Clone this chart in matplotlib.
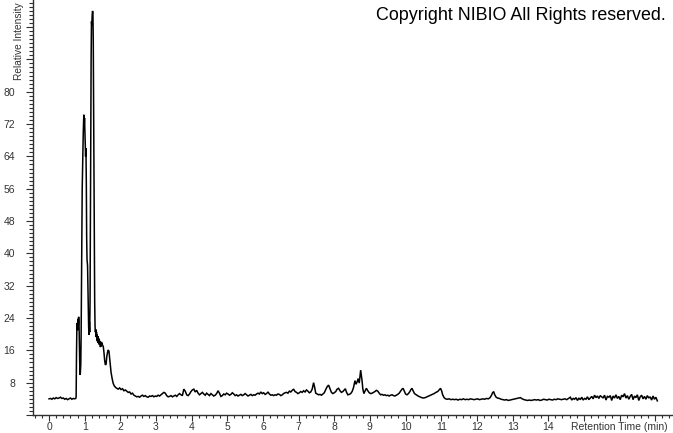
import matplotlib
matplotlib.use("Agg")
import matplotlib.pyplot as plt
from matplotlib.ticker import MultipleLocator, FixedLocator

# ---------------- data ----------------
time_a = [0.00, 0.04, 0.08, 0.12, 0.16, 0.20, 0.24, 0.28, 0.32, 0.36, 0.40, 0.44, 0.48,
          0.52, 0.56, 0.60, 0.64, 0.68, 0.72, 0.75]
int_a = [4.0, 4.1, 3.9, 4.2, 4.0, 4.3, 4.1, 4.2, 4.4, 4.1, 4.2, 3.9, 4.1,
         3.8, 4.0, 4.2, 3.9, 4.1, 4.0, 4.1]

time_b = [0.76, 0.77, 0.78, 0.79, 0.80, 0.81, 0.82, 0.83, 0.84, 0.85, 0.86, 0.875, 0.89,
          0.90, 0.915, 0.93, 0.945, 0.96, 0.975, 0.985, 0.995, 1.005, 1.015, 1.025, 1.035,
          1.045, 1.055, 1.065, 1.08, 1.095, 1.11, 1.12, 1.13, 1.14, 1.15, 1.16, 1.17, 1.18,
          1.19, 1.20, 1.21, 1.22, 1.23, 1.24, 1.25, 1.26, 1.27, 1.28, 1.29, 1.30, 1.31, 1.32,
          1.33, 1.34, 1.35, 1.36, 1.37, 1.38, 1.39, 1.40, 1.41, 1.42, 1.43, 1.44, 1.45, 1.46,
          1.47, 1.48, 1.49, 1.50, 1.52, 1.54, 1.56, 1.58, 1.60, 1.62, 1.64, 1.66, 1.68, 1.70,
          1.72, 1.74, 1.77, 1.80, 1.83, 1.87]
int_b = [4.5, 15.0, 21.5, 22.8, 21.0, 23.8, 22.2, 24.3, 23.0, 18.0, 13.0, 9.9, 12.5,
         20.0, 38.0, 56.0, 63.0, 70.0, 74.3, 71.5, 73.5, 70.0, 66.0, 64.0, 66.0,
         58.0, 44.0, 38.5, 37.0, 30.0, 22.0, 19.8, 23.0, 20.5, 28.0, 48.0, 70.0, 88.0,
         97.4, 96.5, 99.0, 100.0, 99.5, 93.0, 76.0, 56.0, 40.0, 28.0, 22.0, 20.5, 21.2, 19.3,
         20.6, 18.5, 20.0, 18.2, 19.5, 17.8, 19.0, 17.5, 18.6, 17.4, 18.2, 16.8, 17.9, 17.0,
         18.1, 17.3, 17.8, 17.2, 17.0, 15.5, 13.5, 12.4, 12.6, 14.5, 15.5, 16.1, 15.8, 14.0,
         12.0, 10.5, 9.0, 7.8, 7.2, 6.8]

time_c = [1.90, 1.94, 1.98, 2.02, 2.06, 2.10, 2.14, 2.18, 2.22, 2.26, 2.30, 2.34, 2.38,
          2.42, 2.46, 2.50, 2.54, 2.58, 2.62, 2.66, 2.70, 2.74, 2.78, 2.82, 2.86, 2.90,
          2.94, 2.98]
int_c = [6.6, 6.4, 6.7, 6.3, 6.5, 6.0, 6.2, 5.9, 5.6, 5.7, 5.2, 5.4, 4.9,
         4.7, 4.5, 4.6, 4.4, 4.7, 4.9, 4.6, 4.8, 4.5, 4.4, 4.7, 4.6, 4.8,
         4.5, 4.7]

time_d = [3.02, 3.06, 3.10, 3.14, 3.18, 3.22, 3.26, 3.30, 3.34, 3.38, 3.42, 3.46, 3.50,
          3.54, 3.58, 3.62, 3.66, 3.70, 3.74, 3.78, 3.82, 3.86, 3.90, 3.94, 3.98, 4.02,
          4.06, 4.10, 4.14, 4.18, 4.22, 4.26, 4.30, 4.34, 4.38, 4.42, 4.46, 4.50, 4.54,
          4.58, 4.62, 4.66, 4.70, 4.74, 4.78, 4.82, 4.86, 4.90, 4.94, 4.98, 5.02, 5.06,
          5.10, 5.14, 5.18, 5.22, 5.26, 5.30, 5.34, 5.38, 5.42, 5.46, 5.50, 5.54, 5.58,
          5.62, 5.66, 5.70, 5.74, 5.78, 5.82, 5.86, 5.90, 5.94, 5.98, 6.02, 6.06, 6.10,
          6.14, 6.18, 6.22, 6.26, 6.30, 6.34, 6.38, 6.42, 6.46, 6.50, 6.54, 6.58, 6.62,
          6.66, 6.70, 6.74, 6.78, 6.82, 6.86, 6.90, 6.94, 6.98, 7.02, 7.06, 7.10, 7.14,
          7.18, 7.22, 7.26, 7.30, 7.34, 7.38, 7.42, 7.45, 7.48]
int_d = [4.6, 4.9, 4.7, 5.0, 5.3, 5.6, 5.4, 4.8, 4.5, 4.6, 4.8, 4.5, 4.7,
         4.9, 4.6, 5.0, 5.3, 5.0, 4.8, 6.4, 5.9, 5.0, 4.8, 5.2, 5.8, 6.2,
         6.4, 5.7, 6.1, 5.4, 5.0, 5.3, 5.6, 5.2, 4.9, 5.4, 5.1, 4.8, 5.3,
         5.0, 4.7, 4.9, 5.3, 6.0, 5.4, 4.6, 4.8, 5.2, 5.0, 5.4, 5.2, 4.9,
         5.1, 5.5, 5.2, 4.8, 5.0, 4.7, 4.9, 5.1, 4.8, 5.0, 5.3, 5.0, 4.7,
         4.9, 5.1, 4.8, 5.0, 4.9, 5.2, 5.4, 5.2, 5.7, 5.3, 5.5, 5.1, 5.3,
         5.7, 5.2, 4.9, 5.0, 4.8, 5.0, 4.9, 5.2, 5.1, 4.8, 5.0, 5.3, 5.5,
         5.6, 5.4, 5.9, 5.7, 6.1, 6.4, 5.8, 5.6, 5.3, 5.5, 5.8, 5.6, 6.0,
         5.7, 6.2, 5.9, 5.5, 5.7, 6.4, 8.0, 6.8, 5.4]

time_e = [7.52, 7.56, 7.60, 7.64, 7.68, 7.72, 7.76, 7.80, 7.84, 7.88, 7.92, 7.96, 8.00,
          8.04, 8.08, 8.12, 8.16, 8.20, 8.24, 8.28, 8.31, 8.34, 8.38, 8.42, 8.46, 8.50,
          8.54, 8.58, 8.61, 8.64, 8.67, 8.70, 8.72, 8.74, 8.76, 8.78, 8.80, 8.83, 8.86,
          8.90, 8.94, 8.98, 9.02, 9.06, 9.10, 9.14, 9.18, 9.22, 9.26, 9.30, 9.34, 9.38,
          9.42, 9.46, 9.50, 9.54, 9.58, 9.62, 9.66, 9.70, 9.74, 9.78, 9.82, 9.86, 9.90,
          9.93, 9.96, 10.00, 10.04, 10.08, 10.12, 10.15, 10.18, 10.21, 10.25, 10.30, 10.35,
          10.40, 10.45, 10.50, 10.55, 10.60, 10.65, 10.70, 10.75, 10.80, 10.85, 10.90,
          10.94, 10.98, 11.01, 11.04, 11.08, 11.12]
int_e = [5.2, 5.0, 5.1, 4.9, 5.2, 5.5, 6.3, 7.0, 7.4, 6.5, 5.6, 5.3, 5.5,
         5.8, 6.4, 6.6, 6.0, 5.6, 5.8, 6.2, 6.5, 5.7, 5.0, 5.1, 5.3, 5.8,
         6.8, 8.5, 7.6, 8.2, 9.0, 7.9, 9.5, 11.1, 9.8, 8.4, 6.5, 5.3, 5.9,
         6.6, 6.0, 5.5, 5.3, 5.4, 5.6, 5.8, 6.1, 5.9, 5.4, 5.0, 5.1, 4.9,
         5.0, 4.8, 4.9, 4.7, 4.9, 5.0, 4.8, 4.7, 4.9, 5.1, 5.4, 5.9, 6.4,
         6.6, 6.0, 5.2, 5.0, 5.3, 5.8, 6.3, 6.6, 6.0, 5.3, 5.0, 4.7,
         4.5, 4.3, 4.2, 4.3, 4.5, 4.7, 4.9, 5.1, 5.3, 5.6, 5.8,
         6.2, 6.6, 6.0, 5.0, 4.3, 4.0]

time_f = [11.17, 11.22, 11.27, 11.32, 11.37, 11.42, 11.47, 11.52, 11.57, 11.62, 11.67,
          11.72, 11.77, 11.82, 11.87, 11.92, 11.97, 12.02, 12.07, 12.12, 12.17, 12.22,
          12.27, 12.32, 12.37, 12.41, 12.44, 12.47, 12.50, 12.54, 12.58, 12.63, 12.68,
          12.73, 12.78, 12.83, 12.88, 12.93, 12.98, 13.03, 13.08, 13.13, 13.18, 13.22,
          13.27, 13.32, 13.37, 13.42, 13.47, 13.52, 13.57, 13.62, 13.67, 13.72, 13.77,
          13.82, 13.87, 13.92, 13.97, 14.02, 14.07, 14.12, 14.17, 14.22, 14.27, 14.32,
          14.37, 14.42, 14.47, 14.52, 14.57, 14.62, 14.66, 14.70, 14.74, 14.78, 14.82,
          14.86, 14.90, 14.94, 14.98, 15.02, 15.06, 15.10, 15.14, 15.18, 15.22, 15.26,
          15.30, 15.34, 15.38, 15.42, 15.46, 15.50, 15.54, 15.58, 15.62, 15.66, 15.70,
          15.74, 15.78, 15.82, 15.86, 15.90, 15.94, 15.98, 16.02, 16.06, 16.10, 16.14,
          16.18, 16.22, 16.26, 16.30, 16.34, 16.38, 16.42, 16.46, 16.50, 16.54, 16.58,
          16.62, 16.66, 16.70, 16.74, 16.78, 16.82, 16.86, 16.90, 16.94, 16.98, 17.02,
          17.06]
int_f = [3.9, 4.0, 3.8, 3.9, 3.8, 3.9, 3.7, 3.9, 3.8, 4.0, 3.8,
         3.9, 3.8, 4.0, 3.9, 3.8, 3.9, 4.0, 3.8, 3.9, 4.0, 3.9,
         4.1, 4.0, 4.3, 4.9, 5.5, 5.8, 5.0, 4.4, 4.2, 4.1, 3.9,
         3.8, 3.7, 3.8, 3.6, 3.7, 3.8, 3.9, 4.0, 4.1, 4.2, 4.3,
         4.0, 3.8, 3.7, 3.6, 3.7, 3.6, 3.7, 3.8, 3.7, 3.8, 3.6,
         3.7, 3.9, 3.8, 3.7, 3.9, 3.8, 3.7, 3.9, 3.8, 4.0, 3.9,
         3.8, 3.9, 4.0, 3.8, 4.1, 4.4, 3.7, 4.1, 3.9, 4.3, 3.6,
         4.2, 3.8, 4.4, 3.7, 4.1, 3.9, 4.5, 3.8, 4.2, 4.6, 4.0,
         4.9, 4.3, 4.7, 4.1, 4.8, 4.5, 4.2, 4.9, 3.7, 4.6, 4.4,
         4.8, 3.6, 4.7, 4.2, 5.0, 4.1, 4.6, 3.8, 4.9, 4.5, 5.3,
         4.2, 4.8, 3.9, 4.6, 5.1, 3.8, 4.7, 4.3, 5.0, 3.6, 4.5,
         4.9, 4.0, 4.6, 3.9, 4.8, 4.2, 4.5, 3.7, 4.7, 3.9, 4.4,
         3.5]

retention_time = time_a + time_b + time_c + time_d + time_e + time_f
relative_intensity = int_a + int_b + int_c + int_d + int_e + int_f

x_tick_values = list(range(0, 18))
x_tick_labels = [str(v) if v <= 14 else "" for v in x_tick_values]
y_tick_values = list(range(0, 104, 8))
y_tick_labels = [str(v) if 8 <= v <= 80 else "" for v in y_tick_values]

# ---------------- figure ----------------
W, H = 673, 433
fig = plt.figure(figsize=(W / 100, H / 100), dpi=100)
fig.patch.set_facecolor("white")
ax = fig.add_axes([33 / W, 18 / H, (W - 33) / W, (H - 18) / H])

ax.plot(retention_time, relative_intensity, color="black", lw=1.1, solid_joinstyle="miter")

ax.set_xlim(-0.45, 17.5)
ax.set_ylim(0, 102.7)

for s in ("top", "right"):
    ax.spines[s].set_visible(False)
for s in ("left", "bottom"):
    ax.spines[s].set_color("#303030")
    ax.spines[s].set_linewidth(1.0)

ax.xaxis.set_major_locator(FixedLocator(x_tick_values))
ax.set_xticklabels(x_tick_labels)
ax.xaxis.set_minor_locator(MultipleLocator(0.2))
ax.yaxis.set_major_locator(FixedLocator(y_tick_values))
ax.set_yticklabels(y_tick_labels)
ax.yaxis.set_minor_locator(MultipleLocator(1))

font = "Liberation Sans"
ax.tick_params(axis="both", which="major", length=4, width=0.8, color="#303030",
               labelsize=7.5, labelcolor="#333333")
ax.tick_params(axis="both", which="minor", length=2.5, width=0.8, color="#303030")
ax.tick_params(axis="x", which="major", pad=1.0)
ax.tick_params(axis="y", which="major", length=5, pad=8)
ax.tick_params(axis="y", which="minor", length=3)
for lab in ax.get_xticklabels() + ax.get_yticklabels():
    lab.set_fontfamily(font)

fig.text(668 / W, 1 - 427 / H, "Retention Time (min)", ha="right", va="center",
         fontsize=7.5, color="#333333", family=font)
fig.text(19 / W, 1 - 80 / H, "Relative Intensity", rotation=90, ha="center", va="bottom",
         fontsize=7.3, color="#333333", family=font)
fig.text(376 / W, 1 - 15 / H, "Copyright NIBIO All Rights reserved.", ha="left",
         va="center", fontsize=12.9, color="black", family=font)

fig.savefig("out.png", dpi=100)
